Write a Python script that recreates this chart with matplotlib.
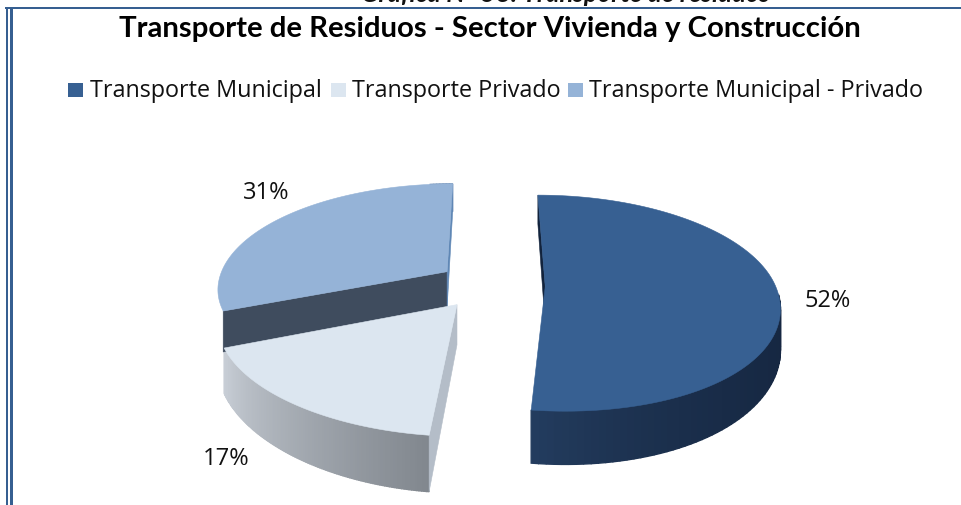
import numpy as np
import matplotlib
matplotlib.use('Agg')
import matplotlib.pyplot as plt
from matplotlib.colors import to_rgb

categories = ['Transporte Municipal', 'Transporte Privado', 'Transporte Municipal - Privado']
values = [52, 17, 31]
labels = ['52%', '17%', '31%']
colors = ['#376092', '#dce6f0', '#95b3d7']
title = 'Transporte de Residuos - Sector Vivienda y Construcción'
caption = 'Gráfica N° 58. Transporte de residuos'

# pie geometry, pixels of the picture
cx, cy = 490, 285
rx, ry = 230, 105
depth = 38
persp = 0.153
skew = 10

plt.rcParams['font.family'] = ['Open Sans', 'DejaVu Sans']


def project(x, y, z=0):
    # ground plane to picture, near side bigger, view a bit off axis
    y = np.asarray(y, dtype=float)
    f = 1 / (1 + persp * y)
    shift = skew * np.minimum(y, 0) ** 2
    return cx + rx * x * f + shift, cy - ry * y * f + depth * z * f * f


def mix(c1, c2, t):
    a, b = np.array(to_rgb(c1)), np.array(to_rgb(c2))
    return tuple(a + (b - a) * t)


def draw_slice(ax, a0, a1, top, rim_from, rim_to, edge0=None, edge1=None, power=1, rim_skip=0, explode=0.23):
    mid = np.radians((a0 + a1) / 2)
    ox, oy = explode * np.cos(mid), explode * np.sin(mid)
    angles = np.radians(np.linspace(a0, a1, 120))
    xs = ox + np.cos(angles)
    ys = oy + np.sin(angles)

    # rim, small steps to get the shading
    for i in range(rim_skip, len(angles) - 1):
        px0, py0 = project(xs[i], ys[i])
        px1, py1 = project(xs[i + 1], ys[i + 1])
        qx1, qy1 = project(xs[i + 1], ys[i + 1], 1)
        qx0, qy0 = project(xs[i], ys[i], 1)
        c = mix(rim_from, rim_to, (i / (len(angles) - 2)) ** power)
        ax.fill([px0, px1, qx1, qx0], [py0, py1, qy1, qy0], color=c, lw=1, zorder=2)

    # the two cut faces
    for k, col in ((0, edge0), (-1, edge1)):
        if col is None:
            continue
        ax0, ay0 = project(ox, oy)
        ax1, ay1 = project(ox, oy, 1)
        bx0, by0 = project(xs[k], ys[k])
        bx1, by1 = project(xs[k], ys[k], 1)
        ax.fill([ax0, bx0, bx1, ax1], [ay0, by0, by1, ay1], color=col, lw=0.4, zorder=3)

    tx, ty = project(np.r_[ox, xs], np.r_[oy, ys])
    ax.fill(tx, ty, color=top, lw=0.4, zorder=4)


fig = plt.figure(figsize=(9.61, 5.05), dpi=100)
ax = fig.add_axes([0, 0, 1, 1])
ax.set_xlim(0, 961)
ax.set_ylim(505, 0)
ax.axis('off')

# slices run clockwise from 12 o'clock
spans = np.array(values) / sum(values) * 360
ends = 90 - np.cumsum(spans)
starts = ends + spans

# far slice first
draw_slice(ax, starts[2], ends[2], colors[2], '#6f8fb8', '#6f8fb8', edge0='#3f4c5e', edge1='#5f87b5', rim_skip=112)
draw_slice(ax, starts[1], ends[1], colors[1], '#81878e', '#c8ced6', edge0='#b4bdc8')
draw_slice(ax, starts[0], ends[0], colors[0], '#152640', '#233c5e', edge0='#12233c', power=5, rim_skip=60, explode=0.24)

# frame
frame = '#365f91'
ax.plot([7, 7], [8, 505], color=frame, lw=1.44, zorder=6)
ax.plot([10.5, 10.5], [8, 505], color=frame, lw=2.16, zorder=6)
ax.plot([6, 961], [8, 8], color=frame, lw=1.44, zorder=6)

ax.text(361, 2.5, caption, fontsize=18.5, fontweight='bold', fontstyle='italic',
        ha='left', va='baseline', color='#111111', family=['Lato', 'DejaVu Sans'])
ax.text(489.5, 37.5, title, fontsize=21.15, fontweight='bold', ha='center', va='baseline',
        color='black', family=['Lato', 'DejaVu Sans'])

# legend
leg_box = [68, 331, 568]
leg_txt = [90, 352, 589]
for x0, xt, name, c in zip(leg_box, leg_txt, categories, colors):
    ax.fill([x0, x0 + 15, x0 + 15, x0], [83, 83, 97, 97], color=c, lw=0)
    ax.text(xt, 97, name, fontsize=16.8, ha='left', va='baseline', color='#111111')

# data labels
label_pos = [(828, 307), (226.5, 465), (266, 199)]
for (x0, y0), t in zip(label_pos, labels):
    ax.text(x0, y0, t, fontsize=17, ha='center', va='baseline', color='#111111')

plt.savefig('out.png', dpi=100)
